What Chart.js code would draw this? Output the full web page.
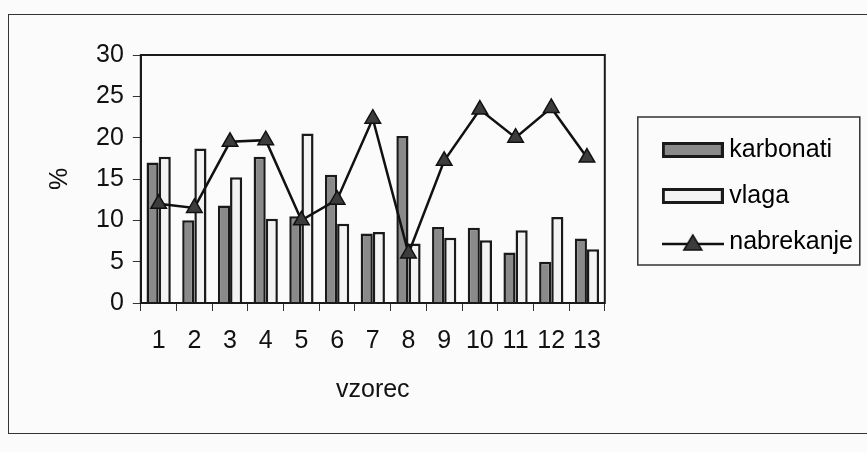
<!DOCTYPE html>
<html>
<head>
<meta charset="utf-8">
<script src="https://cdn.jsdelivr.net/npm/chart.js@4.4.0/dist/chart.umd.min.js"></script>
<style>
    html, body { margin: 0; padding: 0; background: #fbfbfb; }
    #wrap { position: relative; width: 867px; height: 452px; }
    #frame { position: absolute; left: 8px; top: 14px; width: 870px; height: 418px; border: 1.5px solid #333; border-right: none; }
    canvas { position: absolute; left: 0; top: 0; }
</style>
</head>
<body>
<div id="wrap">
    <div id="frame"></div>
    <canvas id="chart" width="867" height="452"></canvas>
</div>
<script>
const vzorec = ['1', '2', '3', '4', '5', '6', '7', '8', '9', '10', '11', '12', '13'];
const karbonati = [17, 10, 11.8, 17.7, 10.5, 15.5, 8.4, 20.2, 9.2, 9.1, 6.1, 5, 7.8];
const vlaga = [17.7, 18.7, 15.2, 10.2, 20.5, 9.6, 8.6, 7.2, 7.9, 7.6, 8.8, 10.4, 6.5];
const nabrekanje = [12, 11.5, 19.5, 19.7, 10, 12.5, 22.3, 6, 17.2, 23.4, 20, 23.6, 17.6];
const yTicks = [0, 5, 10, 15, 20, 25, 30];

const FONT = 'Liberation Sans, Arial, sans-serif';
const FSIZE = 25;

// small pictures used as legend symbols
function boxSymbol(fill) {
    const c = document.createElement('canvas');
    c.width = 62; c.height = 16;
    const g = c.getContext('2d');
    g.fillStyle = fill;
    g.fillRect(1.5, 1.5, 59, 13);
    g.strokeStyle = '#1a1a1a';
    g.lineWidth = 3;
    g.strokeRect(1.5, 1.5, 59, 13);
    return c;
}

function lineSymbol() {
    const c = document.createElement('canvas');
    c.width = 62; c.height = 20;
    const g = c.getContext('2d');
    g.strokeStyle = '#111';
    g.lineWidth = 2.5;
    g.beginPath();
    g.moveTo(0, 12); g.lineTo(62, 12);
    g.stroke();
    g.fillStyle = '#3c3c3c';
    g.beginPath();
    g.moveTo(31, 3); g.lineTo(40, 18); g.lineTo(22, 18); g.closePath();
    g.fill();
    g.lineWidth = 1.5;
    g.stroke();
    return c;
}

const legendSymbols = [boxSymbol('#8a8a8a'), boxSymbol('#f3f3f3'), lineSymbol()];

// move the legend a bit away from the plot and up, like in the original
const legendShift = {
    id: 'legendShift',
    afterLayout(chart) {
        const lg = chart.legend;
        const w = lg.right - lg.left;
        lg.left = chart.chartArea.right + 43;
        lg.right = lg.left + w;
        const mid = (lg.top + lg.bottom) / 2;
        const d = mid - 196;
        lg.top -= d;
        lg.bottom -= d;
    }
};

const framePlugin = {
    id: 'framePlugin',
    afterDraw(chart) {
        const ctx = chart.ctx;
        const a = chart.chartArea;
        ctx.save();
        ctx.strokeStyle = '#1a1a1a';
        ctx.lineWidth = 2;
        ctx.strokeRect(a.left, a.top, a.right - a.left, a.bottom - a.top);
        // legend border
        const lg = chart.legend;
        ctx.lineWidth = 1.5;
        ctx.strokeStyle = '#333';
        ctx.strokeRect(lg.left - 10, 117, 222, 148);
        ctx.restore();
    }
};

const ctx = document.getElementById('chart').getContext('2d');

new Chart(ctx, {
    type: 'bar',
    data: {
        labels: vzorec,
        datasets: [
            {
                label: 'karbonati',
                data: karbonati,
                backgroundColor: '#8a8a8a',
                borderColor: '#1a1a1a',
                borderWidth: 2.5,
                categoryPercentage: 0.68,
                barPercentage: 1,
                order: 2
            },
            {
                label: 'vlaga',
                data: vlaga,
                backgroundColor: '#f3f3f3',
                borderColor: '#1a1a1a',
                borderWidth: 2.5,
                categoryPercentage: 0.68,
                barPercentage: 1,
                order: 2
            },
            {
                type: 'line',
                label: 'nabrekanje',
                data: nabrekanje,
                borderColor: '#111',
                borderWidth: 2.5,
                pointStyle: 'triangle',
                pointRadius: 9,
                pointBackgroundColor: '#3c3c3c',
                pointBorderColor: '#111',
                pointBorderWidth: 1.5,
                tension: 0,
                order: 1
            }
        ]
    },
    options: {
        responsive: false,
        animation: false,
        layout: {
            padding: { left: 45, top: 55, right: 47, bottom: 47 }
        },
        plugins: {
            tooltip: { enabled: false },
            legend: {
                position: 'right',
                maxWidth: 300,
                labels: {
                    usePointStyle: true,
                    pointStyleWidth: 48,
                    padding: 21,
                    color: '#111',
                    font: { family: FONT, size: FSIZE },
                    generateLabels(chart) {
                        return chart.data.datasets.map((ds, i) => ({
                            text: ds.label,
                            pointStyle: legendSymbols[i],
                            fillStyle: 'transparent',
                            strokeStyle: 'transparent',
                            lineWidth: 0,
                            datasetIndex: i,
                            hidden: false
                        }));
                    }
                }
            }
        },
        scales: {
            x: {
                grid: {
                    display: true,
                    drawOnChartArea: false,
                    offset: true,
                    tickLength: 8,
                    tickColor: '#333'
                },
                border: { display: true, color: '#1a1a1a', width: 2 },
                ticks: {
                    color: '#111',
                    padding: 15,
                    maxRotation: 0,
                    font: { family: FONT, size: FSIZE }
                },
                title: {
                    display: true,
                    text: 'vzorec',
                    color: '#111',
                    padding: { top: 4, bottom: 0 },
                    font: { family: FONT, size: FSIZE }
                }
            },
            y: {
                min: 0,
                max: 30,
                afterBuildTicks(axis) {
                    axis.ticks = yTicks.map(v => ({ value: v }));
                },
                grid: {
                    display: true,
                    drawOnChartArea: false,
                    tickLength: 8,
                    tickColor: '#333'
                },
                border: { display: true, color: '#1a1a1a', width: 2 },
                ticks: {
                    color: '#111',
                    padding: 9,
                    font: { family: FONT, size: FSIZE }
                },
                title: {
                    display: true,
                    text: '%',
                    color: '#111',
                    padding: { top: 0, bottom: 12 },
                    font: { family: FONT, size: FSIZE }
                }
            }
        }
    },
    plugins: [legendShift, framePlugin]
});
</script>
</body>
</html>
